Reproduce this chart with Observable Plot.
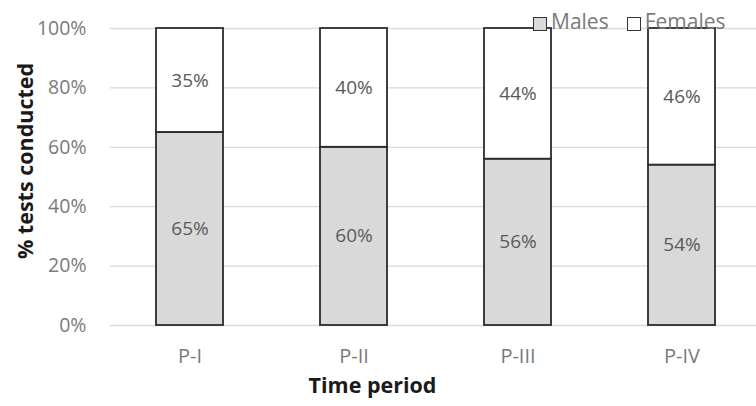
<!DOCTYPE html>
<html>
<head>
<meta charset="utf-8">
<script src="https://cdn.jsdelivr.net/npm/d3@7"></script>
<script src="https://cdn.jsdelivr.net/npm/@observablehq/plot@0.6"></script>
<style>
  body { margin: 0; background: #fff; }
  #wrap { position: relative; width: 756px; height: 406px; font-family: "Open Sans", sans-serif; }
  #legend { position: absolute; top: 7px; left: 533px; display: flex; align-items: center; font-size: 21px; color: #7a7a7a; line-height: 28px; }
  .sw { display: inline-block; width: 12px; height: 12px; border: 1.7px solid #333; margin-right: 4px; position: relative; top: 3px; }
  .item { display: flex; align-items: center; margin-right: 18px; }
</style>
</head>
<body>
<div id="wrap">
  <div id="legend"></div>
</div>
<script>
const periods = ["P-I", "P-II", "P-III", "P-IV"];
const males = [65, 60, 56, 54];
const females = [35, 40, 44, 46];
const seriesNames = ["Males", "Females"];
const seriesColors = ["#d9d9d9", "#ffffff"];
const yTicks = [0, 20, 40, 60, 80, 100];

const data = [];
periods.forEach((p, i) => {
  data.push({period: p, series: "Males", value: males[i]});
  data.push({period: p, series: "Females", value: females[i]});
});

const chart = Plot.plot({
  width: 756,
  height: 406,
  marginLeft: 110,
  marginRight: 0,
  marginTop: 28,
  marginBottom: 81,
  style: {fontFamily: "'Open Sans', sans-serif", fontSize: "19px", color: "#7a7a7a", background: "#fff"},
  x: {domain: periods, range: [108, 764], paddingInner: 0.59, paddingOuter: 0.295, align: 0.5},
  y: {domain: [0, 100]},
  color: {domain: seriesNames, range: seriesColors},
  marks: [
    Plot.gridY(yTicks, {stroke: "#d9d9d9", strokeOpacity: 1, strokeWidth: 1.3}),
    Plot.axisY(yTicks, {tickSize: 0, tickPadding: 24, tickFormat: d => d + "%", label: null, fontSize: 19.5, fill: "#7a7a7a"}),
    Plot.axisX({tickSize: 0, tickPadding: 23, label: null, fontSize: 20, fill: "#7a7a7a"}),
    Plot.barY(data, Plot.stackY({order: seriesNames, x: "period", y: "value", z: "series", fill: "series", stroke: "#2b2b2b", strokeWidth: 1.8})),
    Plot.text(data, Plot.stackY({order: seriesNames, x: "period", y: "value", z: "series", text: d => d.value + "%", fill: "#595959", fontSize: 19})),
    Plot.text(["% tests conducted"], {frameAnchor: "left", textAnchor: "middle", rotate: -90, dx: -84, dy: -16, fontWeight: "bold", fontSize: 21.5, fill: "#1a1a1a"}),
    Plot.text(["Time period"], {frameAnchor: "bottom", textAnchor: "middle", dx: -61, dy: 67, fontWeight: "bold", fontSize: 21.5, fill: "#1a1a1a"})
  ]
});
document.getElementById("wrap").prepend(chart);

const legend = document.getElementById("legend");
seriesNames.forEach((s, i) => {
  const item = document.createElement("span");
  item.className = "item";
  const sw = document.createElement("span");
  sw.className = "sw";
  sw.style.background = seriesColors[i];
  item.appendChild(sw);
  item.appendChild(document.createTextNode(s));
  legend.appendChild(item);
});
</script>
</body>
</html>
